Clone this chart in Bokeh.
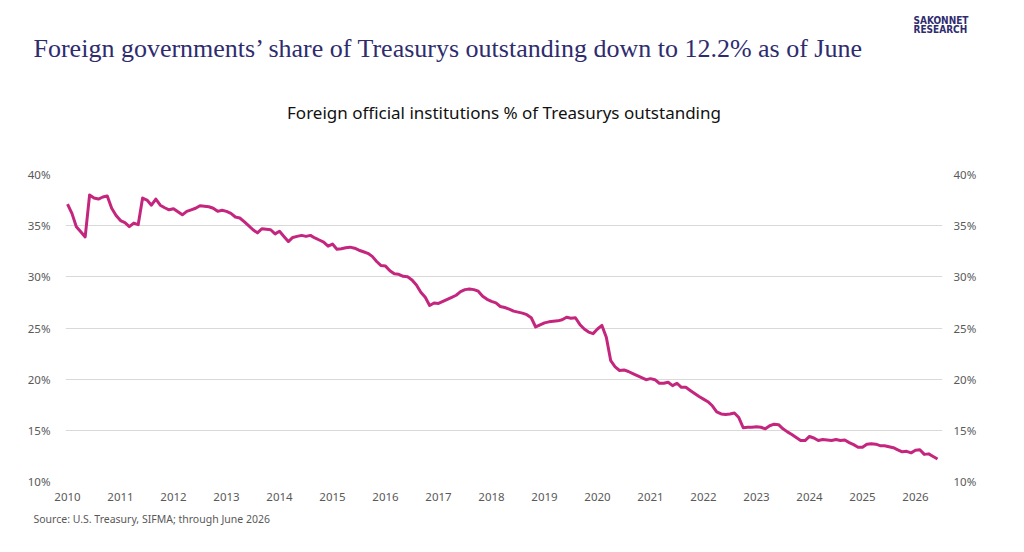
from bokeh.plotting import figure
from bokeh.models import Range1d, LinearAxis, FixedTicker, Title, ColumnDataSource
from bokeh.embed import file_html
from bokeh.resources import INLINE

# Monthly share (%) of Treasurys outstanding held by foreign official institutions, Jan 2010 - Jun 2026
share_2010 = [37.1, 36.2, 34.9, 34.4, 33.9, 38.0, 37.7, 37.6, 37.8, 37.9, 36.7, 36.0]
share_2011 = [35.5, 35.3, 34.9, 35.25, 35.1, 37.7, 37.5, 37.0, 37.6, 37.0, 36.75, 36.55]
share_2012 = [36.65, 36.35, 36.06, 36.4, 36.55, 36.7, 36.95, 36.9, 36.85, 36.7, 36.4, 36.5]
share_2013 = [36.4, 36.2, 35.85, 35.75, 35.4, 35.0, 34.6, 34.3, 34.7, 34.65, 34.6, 34.2]
share_2014 = [34.45, 33.95, 33.45, 33.85, 33.95, 34.05, 33.95, 34.05, 33.8, 33.6, 33.4, 33.0]
share_2015 = [33.2, 32.7, 32.75, 32.85, 32.9, 32.8, 32.6, 32.45, 32.3, 32.0, 31.5, 31.1]
share_2016 = [31.05, 30.6, 30.3, 30.25, 30.05, 30.0, 29.7, 29.2, 28.5, 28.0, 27.2, 27.45]
share_2017 = [27.4, 27.6, 27.8, 28.0, 28.2, 28.55, 28.75, 28.8, 28.75, 28.6, 28.1, 27.8]
share_2018 = [27.6, 27.45, 27.1, 27.0, 26.85, 26.65, 26.55, 26.45, 26.3, 26.0, 25.1, 25.3]
share_2019 = [25.5, 25.6, 25.65, 25.7, 25.8, 26.05, 25.95, 26.0, 25.35, 24.9, 24.6, 24.45]
share_2020 = [24.9, 25.25, 24.1, 21.8, 21.2, 20.85, 20.9, 20.75, 20.55, 20.35, 20.15, 19.95]
share_2021 = [20.05, 19.95, 19.6, 19.6, 19.7, 19.37, 19.6, 19.2, 19.2, 18.9, 18.6, 18.3]
share_2022 = [18.05, 17.8, 17.4, 16.8, 16.6, 16.55, 16.6, 16.7, 16.25, 15.25, 15.3, 15.3]
share_2023 = [15.35, 15.3, 15.15, 15.45, 15.6, 15.55, 15.15, 14.85, 14.6, 14.3, 14.0, 14.0]
share_2024 = [14.4, 14.25, 14.0, 14.1, 14.05, 14.0, 14.1, 14.0, 14.05, 13.8, 13.6, 13.35]
share_2025 = [13.35, 13.65, 13.7, 13.65, 13.5, 13.5, 13.4, 13.3, 13.1, 12.9, 12.95, 12.8]
share_2026 = [13.05, 13.1, 12.65, 12.7, 12.45, 12.2]

years = list(range(2010, 2027))
y_ticks = [10, 15, 20, 25, 30, 35, 40]
y_tick_labels = ["10%", "15%", "20%", "25%", "30%", "35%", "40%"]

title_text = "Foreign governments\u2019 share of Treasurys outstanding down to 12.2% as of June"
subtitle_text = "Foreign official institutions % of Treasurys outstanding"
source_text = "Source: U.S. Treasury, SIFMA; through June 2026"
logo_text = "SAKONNET\nRESEARCH"

share = (share_2010 + share_2011 + share_2012 + share_2013 + share_2014 + share_2015 +
         share_2016 + share_2017 + share_2018 + share_2019 + share_2020 + share_2021 +
         share_2022 + share_2023 + share_2024 + share_2025 + share_2026)
month_pos = [2010 + i / 12 for i in range(len(share))]
src = ColumnDataSource(dict(x=month_pos, y=share))

W, H = 1008, 536
FL, FR, FT, FB = 65, 942, 174, 481   # frame edges on the page
NAVY = "#2E2C6E"
font = "Noto Sans"
label_color = "#595959"

p = figure(width=W, height=H, output_backend="svg", toolbar_location=None,
           x_range=Range1d(2009.962, 2026.51), y_range=Range1d(10, 40),
           min_border_left=FL, min_border_right=W - FR, min_border_top=FT,
           min_border_bottom=H - FB)
p.outline_line_color = None
p.background_fill_color = "white"
p.border_fill_color = "white"

p.line("x", "y", source=src, line_color="#C4267E", line_width=3, line_join="round")

overrides = {t: l for t, l in zip(y_ticks, y_tick_labels)}
p.xaxis.ticker = FixedTicker(ticks=years)
p.yaxis.ticker = FixedTicker(ticks=y_ticks)
p.yaxis.major_label_overrides = overrides
for ax in [p.xaxis[0], p.yaxis[0]]:
    ax.axis_line_color = None
    ax.major_tick_line_color = None
    ax.minor_tick_line_color = None
    ax.major_label_text_font = font
    ax.major_label_text_font_size = "11.5px"
    ax.major_label_text_color = label_color
p.xaxis.major_label_standoff = 5
p.yaxis.major_label_standoff = 9

right = LinearAxis(ticker=FixedTicker(ticks=y_ticks), major_label_overrides=overrides,
                   axis_line_color=None, major_tick_line_color=None, minor_tick_line_color=None,
                   major_label_text_font=font, major_label_text_font_size="11.5px",
                   major_label_text_color=label_color, major_label_standoff=5)
p.add_layout(right, "right")

p.xgrid.grid_line_color = None
p.ygrid.grid_line_color = "#D9D9D9"
p.ygrid.grid_line_width = 1

# texts in the side panels (first added = nearest the frame)
p.add_layout(Title(text=subtitle_text, align="center", text_font=font, text_font_size="17px",
                   text_font_style="normal", text_color="#111111", standoff=102), "above")
p.add_layout(Title(text=title_text, align="left", offset=33 - FL, text_font="Liberation Serif",
                   text_font_size="26px", text_font_style="normal", text_color=NAVY,
                   standoff=-30), "above")
p.add_layout(Title(text=logo_text, align="left", offset=913 - FL, text_font="DejaVu Sans Condensed",
                   text_font_size="10px", text_font_style="bold", text_color=NAVY,
                   standoff=22, text_line_height=0.9), "above")
p.add_layout(Title(text=source_text, align="left", offset=33 - FL, text_font=font,
                   text_font_size="10.5px", text_font_style="normal", text_color=label_color,
                   standoff=12), "below")

open("out.html", "w").write(file_html(p, INLINE))
